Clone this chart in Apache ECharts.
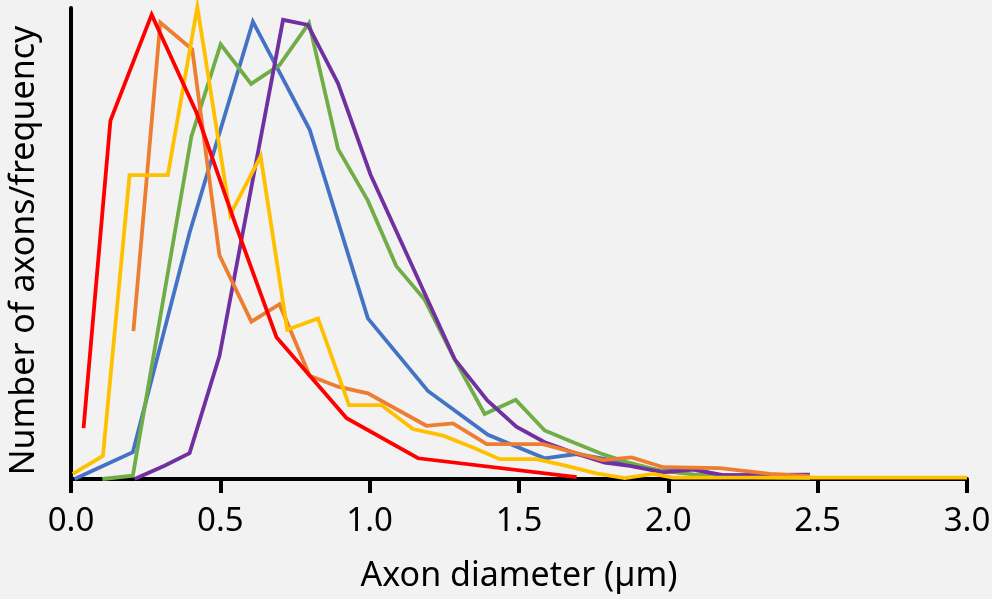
<!DOCTYPE html>
<html>
<head>
<meta charset="utf-8">
<script src="https://cdn.jsdelivr.net/npm/echarts@6/dist/echarts.min.js"></script>
<style>
  html, body { margin: 0; padding: 0; background: #f2f2f2; }
  #chart { width: 992px; height: 599px; }
</style>
</head>
<body>
<div id="chart"></div>
<script>
// Axon diameter distributions: [diameter (µm), relative frequency]
const redSeries = [
  [0.042, 10.8], [0.132, 76.1], [0.270, 98.6], [0.420, 77.8], [0.551, 54.0],
  [0.688, 30.1], [0.923, 12.9], [1.162, 4.4], [1.693, 0.4]
];
const orangeSeries = [
  [0.209, 31.4], [0.299, 96.9], [0.406, 91.2], [0.497, 47.5], [0.604, 33.4],
  [0.698, 37.1], [0.799, 21.9], [0.894, 19.6], [0.994, 18.2], [1.190, 11.3],
  [1.279, 11.8], [1.392, 7.4], [1.580, 7.4], [1.680, 5.7], [1.781, 4.0],
  [1.877, 4.6], [1.983, 2.5], [2.173, 2.3], [2.340, 1.1], [2.474, 0.6]
];
const yellowSeries = [
  [0.006, 1.1], [0.107, 4.9], [0.196, 64.5], [0.324, 64.5], [0.423, 100.2],
  [0.533, 56.1], [0.635, 68.5], [0.724, 31.7], [0.827, 34.1], [0.931, 15.7],
  [1.039, 15.7], [1.145, 10.6], [1.246, 9.2], [1.342, 6.8], [1.436, 4.2],
  [1.558, 4.2], [1.659, 2.8], [1.759, 1.2], [1.854, 0.2], [1.949, 1.1],
  [2.016, 0.3], [2.200, 0.3], [2.450, 0.3], [2.585, 0.3], [2.720, 0.3],
  [2.866, 0.3], [3.000, 0.3]
];
const greenSeries = [
  [0.105, 0.0], [0.207, 0.7], [0.403, 72.7], [0.501, 92.3], [0.603, 83.9],
  [0.698, 87.9], [0.797, 96.8], [0.894, 70.1], [0.994, 59.1], [1.089, 45.2],
  [1.184, 38.1], [1.281, 25.8], [1.385, 13.8], [1.489, 16.8], [1.586, 10.3],
  [1.681, 7.8], [1.774, 5.4], [1.861, 3.6], [1.971, 1.8], [2.083, 1.0],
  [2.183, 0.5], [2.474, 0.2]
];
const blueSeries = [
  [0.012, 0.0], [0.207, 5.7], [0.397, 52.3], [0.609, 97.1], [0.799, 74.2],
  [0.994, 34.1], [1.195, 18.7], [1.396, 9.4], [1.586, 4.4], [1.692, 5.3],
  [1.791, 4.2], [1.888, 2.8], [1.982, 1.7], [2.082, 2.2], [2.173, 0.8],
  [2.474, 0.4]
];
const purpleSeries = [
  [0.213, 0.0], [0.313, 2.8], [0.397, 5.5], [0.497, 26.1], [0.710, 97.5],
  [0.793, 96.4], [0.894, 84.0], [1.003, 64.6], [1.285, 25.4], [1.394, 16.7],
  [1.491, 11.1], [1.586, 7.8], [1.677, 5.7], [1.787, 3.5], [1.871, 2.8],
  [1.983, 1.4], [2.083, 2.0], [2.184, 0.8], [2.474, 0.9]
];
const xTicks = { min: 0, max: 3, step: 0.5 };

const FONT = 'Noto Sans';

function line(name, data, color) {
  return {
    name: name,
    type: 'line',
    data: data,
    symbol: 'none',
    clip: false,
    lineStyle: { color: color, width: 3.8, cap: 'butt', join: 'miter' },
    emphasis: { disabled: true }
  };
}

const chart = echarts.init(document.getElementById('chart'), null, { renderer: 'canvas' });
chart.setOption({
  backgroundColor: '#f2f2f2',
  animation: false,
  grid: {
    left: 71, right: 25, top: 8, bottom: 120,
    containLabel: false, outerBoundsMode: 'none'
  },
  xAxis: {
    type: 'value',
    min: xTicks.min,
    max: xTicks.max,
    interval: xTicks.step,
    name: 'Axon diameter (µm)',
    nameLocation: 'middle',
    nameGap: 80,
    nameTextStyle: { fontFamily: FONT, fontSize: 34, color: '#000' },
    axisLine: { show: true, lineStyle: { color: '#000', width: 4 } },
    axisTick: { show: true, inside: false, length: 14, lineStyle: { color: '#000', width: 4 } },
    axisLabel: {
      fontFamily: FONT, fontSize: 33, color: '#000', margin: 26,
      formatter: v => v.toFixed(1), showMinLabel: true, showMaxLabel: true
    },
    splitLine: { show: false }
  },
  yAxis: {
    type: 'value',
    min: 0,
    max: 100,
    name: 'Number of axons/frequency',
    nameLocation: 'middle',
    nameGap: 30,
    nameTextStyle: { fontFamily: FONT, fontSize: 34, color: '#000', padding: [0, 14, 0, 0] },
    axisLine: { show: true, lineStyle: { color: '#000', width: 4 } },
    axisTick: { show: false },
    axisLabel: { show: false },
    splitLine: { show: false }
  },
  series: [
    line('Blue', blueSeries, '#4472C4'),
    line('Green', greenSeries, '#70AD47'),
    line('Purple', purpleSeries, '#7030A0'),
    line('Orange', orangeSeries, '#ED7D31'),
    line('Yellow', yellowSeries, '#FFC000'),
    line('Red', redSeries, '#FF0000')
  ]
});
</script>
</body>
</html>
